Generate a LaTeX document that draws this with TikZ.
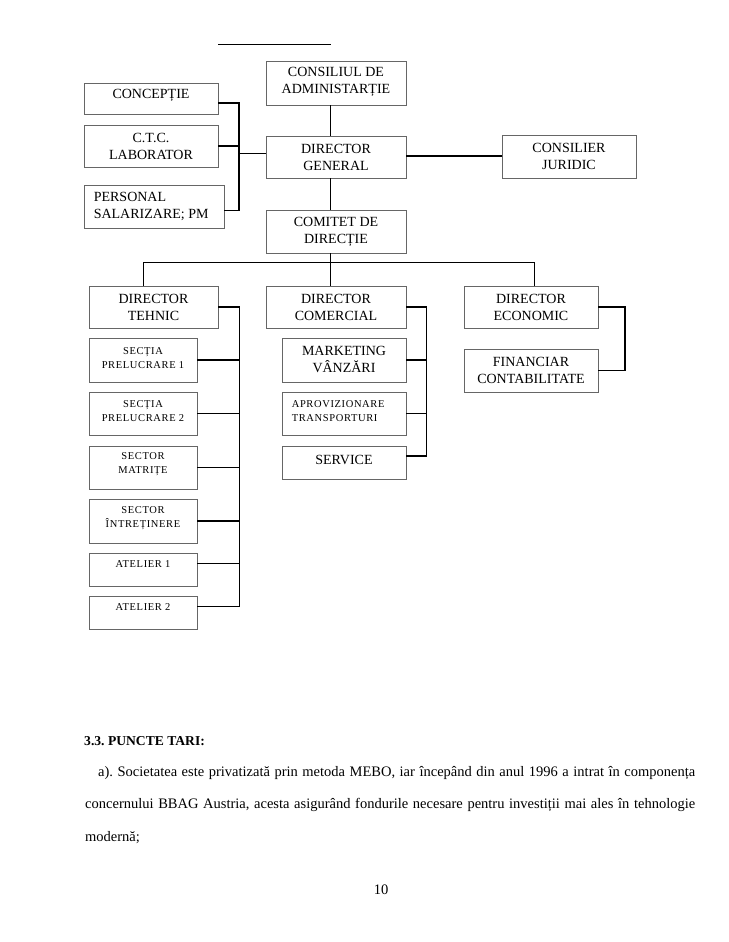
\documentclass[tikz,border=0pt]{standalone}
\usepackage{fontspec}
\setmainfont{Liberation Serif}
\newfontfamily\spacedfont[LetterSpace=6]{Liberation Serif}
\frenchspacing
\tikzset{
  boxst/.style={draw=black!60, line width=0.8pt, rectangle, inner sep=0pt},
  bigt/.style={font=\fontsize{14}{17}\selectfont, align=center, inner sep=0pt},
  smallt/.style={font=\spacedfont\fontsize{10.5}{14}\selectfont, align=center, inner sep=0pt},
  conn/.style={draw=black, line width=1.3pt},
  bodyt/.style={font=\fontsize{14.5}{17}\selectfont, inner sep=0pt, anchor=base west},
}
% #1 name, #2 left, #3 top, #4 right, #5 bottom, #6 text shift down, #7 text style, #8 text
\newcommand\orgbox[8]{%
  \node[boxst, minimum width={#4-#2}, minimum height={#5-#3}] (#1) at ({(#2+#4)/2},{(#3+#5)/2}) {};
  \node[#7] (#1-t) at ([yshift={-(#6)*1pt}]#1.center) {#8};}
\begin{document}
\begin{tikzpicture}[x=1pt,y=-1pt]
\useasboundingbox[fill=white] (0,0) rectangle (728,942);
% top rule
\coordinate (tl1) at (218,45);
\coordinate (tl2) at (331,45);
\draw[line width=1pt] (tl1) -- (tl2);

% upper boxes
\orgbox{cons}{266}{61}{406}{105}{-1}{bigt}{CONSILIUL DE\\ADMINISTARȚIE}
\orgbox{conc}{84}{83}{218}{114}{-3.5}{bigt}{CONCEPȚIE}
\orgbox{ctc}{84}{125}{218}{167}{0}{bigt}{C.T.C.\\LABORATOR}
\node[boxst, minimum width=140, minimum height=43] (pers) at (154,206.5) {};
\node[bigt, align=left, anchor=west] (pers-t) at ([xshift=10pt]pers.west) {PERSONAL\\SALARIZARE; PM};
\orgbox{dg}{266}{136}{406}{178}{0}{bigt}{DIRECTOR\\GENERAL}
\orgbox{jur}{502}{135}{636}{178}{0}{bigt}{CONSILIER\\JURIDIC}
\orgbox{com}{266}{210}{406}{253}{0}{bigt}{COMITET DE\\DIRECȚIE}

% directors
\orgbox{dt}{89}{286}{218}{328}{0}{bigt}{DIRECTOR\\TEHNIC}
\orgbox{dc}{266}{286}{406}{328}{0}{bigt}{DIRECTOR\\COMERCIAL}
\orgbox{de}{464}{286}{598}{328}{0}{bigt}{DIRECTOR\\ECONOMIC}

% technical column
\orgbox{s1}{89}{338}{197}{382}{-2.3}{smallt}{SECȚIA\\PRELUCRARE 1}
\orgbox{s2}{89}{392}{197}{435}{-2}{smallt}{SECȚIA\\PRELUCRARE 2}
\orgbox{mat}{89}{446}{197}{489}{-3.5}{smallt}{SECTOR\\MATRIȚE}
\orgbox{intr}{89}{499}{197}{543}{-3}{smallt}{SECTOR\\ÎNTREȚINERE}
\orgbox{at1}{89}{553}{197}{586}{-5.5}{smallt}{ATELIER 1}
\orgbox{at2}{89}{596}{197}{629}{-5.5}{smallt}{ATELIER 2}

% commercial column
\orgbox{mk}{282}{338}{406}{382}{-1}{bigt}{MARKETING\\VÂNZĂRI}
\node[boxst, minimum width=124, minimum height=43] (apr) at (344,413.5) {};
\node[smallt, align=left, anchor=west] (apr-t) at ([xshift=10pt,yshift=2pt]apr.west) {APROVIZIONARE\\TRANSPORTURI};
\orgbox{serv}{282}{446}{406}{479}{-2.5}{bigt}{SERVICE}

% economic column
\orgbox{fin}{464}{349}{598}{392}{0}{bigt}{FINANCIAR\\CONTABILITATE}

% connectors: upper part
\coordinate (vx) at (330.7,0);
\coordinate (bus) at (0,262.3);
\coordinate (d1) at (143.3,0);
\coordinate (d3) at (534.3,0);
\draw[conn] (vx |- cons.south) -- (vx |- dg.north);
\draw[conn] (vx |- dg.south) -- (vx |- com.north);
\draw[conn] (vx |- com.south) -- (vx |- dc.north);
\draw[conn] (d1 |- dt.north) -- (d1 |- bus) -- (d3 |- bus) -- (d3 |- de.north);
\coordinate (g2) at ([yshift=1pt]dg.east);
\draw[conn] (g2) -- (g2 -| jur.west);

% left bracket of director general
\coordinate (lb) at (239,0);
\coordinate (c1) at ([yshift=-4.5pt]conc.east);
\coordinate (p1) at ([yshift=-4pt]pers.east);
\coordinate (g1) at ([yshift=3.7pt]dg.west);
\draw[conn] (c1) -| (lb |- p1) -- (p1);
\draw[conn] (ctc.east) -- (ctc.east -| lb);
\draw[conn] (g1) -- (g1 -| lb);

% technical bracket
\coordinate (tb) at (239.5,0);
\coordinate (a1e) at ([yshift=6pt]at1.east);
\coordinate (a2e) at ([yshift=6pt]at2.east);
\draw[conn] (dt.east) -| (tb |- a2e) -- (a2e);
\draw[conn] (s1.east) -- (s1.east -| tb);
\draw[conn] (s2.east) -- (s2.east -| tb);
\draw[conn] (mat.east) -- (mat.east -| tb);
\draw[conn] (intr.east) -- (intr.east -| tb);
\draw[conn] (a1e) -- (a1e -| tb);

% commercial bracket
\coordinate (cb) at (426.7,0);
\coordinate (sve) at ([yshift=6.5pt]serv.east);
\draw[conn] (dc.east) -| (cb |- sve) -- (sve);
\draw[conn] (mk.east) -- (mk.east -| cb);
\draw[conn] (apr.east) -- (apr.east -| cb);

% economic bracket
\coordinate (eb) at (625,0);
\draw[conn] (de.east) -| (eb |- fin.east) -- (fin.east);

% body text
\node[bodyt, font=\fontsize{13.6}{17}\selectfont\bfseries] (head) at (84,745) {3.3. PUNCTE TARI:};
\node[bodyt] (l1) at (98,776) {\makebox[597pt][s]{a). Societatea este privatizată prin metoda MEBO, iar începând din anul 1996 a intrat în componența}};
\node[bodyt] (l2) at (85,808) {\makebox[610pt][s]{concernului BBAG Austria, acesta asigurând fondurile necesare pentru investiții mai ales în tehnologie}};
\node[bodyt] (l3) at (85,841) {modernă;};
\node[bodyt, anchor=base] (pg) at (381,894) {10};
\end{tikzpicture}
\end{document}
